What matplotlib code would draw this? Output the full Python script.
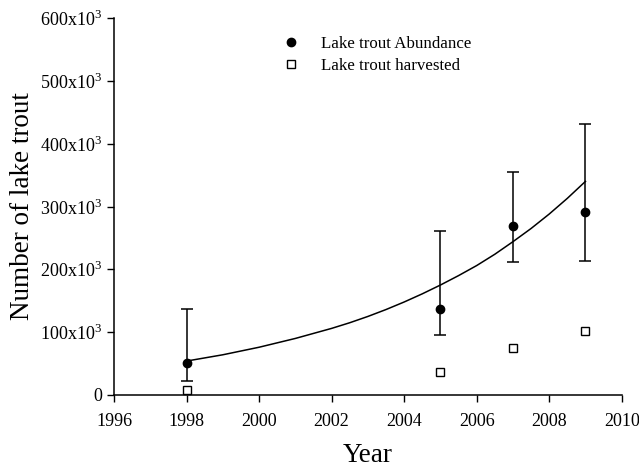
import matplotlib.pyplot as plt
import numpy as np
from matplotlib.lines import Line2D

plt.rcParams['font.family'] = ['Liberation Serif', 'DejaVu Serif']
plt.rcParams['mathtext.fontset'] = 'custom'
plt.rcParams['mathtext.rm'] = 'Liberation Serif'

# Abundance estimates (thousands) with lower/upper bounds
years = np.array([1998, 2005, 2007, 2009])
abundance = np.array([51, 137, 269, 291])
abund_low = np.array([22, 95, 212, 214])
abund_high = np.array([137, 261, 355, 432])

# Harvested fish (thousands)
harvested = np.array([8, 36, 74, 102])

# Fitted curve (thousands)
curve_years = np.array([1998, 1998.5, 1999, 1999.5, 2000, 2000.5, 2001, 2001.5,
                        2002, 2002.5, 2003, 2003.5, 2004, 2004.5, 2005, 2005.5,
                        2006, 2006.5, 2007, 2007.5, 2008, 2008.5, 2009])
curve_vals = np.array([54, 59, 64, 70, 76, 83, 90, 98, 106, 115, 125, 136,
                       148, 161, 175, 190, 206, 224, 244, 265, 288, 313, 340])

y_ticks = [0, 100, 200, 300, 400, 500, 600]
y_labels = ['0'] + [f'{v}x10$^3$' for v in y_ticks[1:]]
x_ticks = [1996, 1998, 2000, 2002, 2004, 2006, 2008, 2010]

fig = plt.figure(figsize=(6.39, 4.69), dpi=100)
ax = fig.add_axes([0.1784, 0.1578, 0.7946, 0.8038])

ax.plot(curve_years, curve_vals, color='black', linewidth=1.1)
ax.errorbar(years, abundance,
            yerr=[abundance - abund_low, abund_high - abundance],
            fmt='o', color='black', markersize=6, capsize=4.5,
            elinewidth=1.1, capthick=1.1)
ax.plot(years, harvested, 's', markerfacecolor='white', markeredgecolor='black',
        markersize=6, markeredgewidth=1)

ax.set_xlim(1996, 2010)
ax.set_ylim(0, 600)
ax.set_xticks(x_ticks)
ax.set_yticks(y_ticks)
ax.set_yticklabels(y_labels)
ax.tick_params(direction='out', length=5, width=1, labelsize=13)
ax.tick_params(axis='x', pad=8)

for side in ['top', 'right']:
    ax.spines[side].set_visible(False)
for side in ['left', 'bottom']:
    ax.spines[side].set_linewidth(1.1)

ax.set_xlabel('Year', fontsize=19.5, labelpad=9)
ax.set_ylabel('Number of lake trout', fontsize=19.5, labelpad=4)

handles = [
    Line2D([], [], marker='o', linestyle='none', color='black', markersize=6),
    Line2D([], [], marker='s', linestyle='none', markerfacecolor='white',
           markeredgecolor='black', markersize=6, markeredgewidth=1),
]
labels = ['Lake trout Abundance', 'Lake trout harvested']
ax.legend(handles, labels, frameon=False, fontsize=12.2, loc='upper left',
          bbox_to_anchor=(0.302, 0.993), handletextpad=1.28, handlelength=1.0,
          labelspacing=0.35)

plt.savefig('out.png', dpi=100)
